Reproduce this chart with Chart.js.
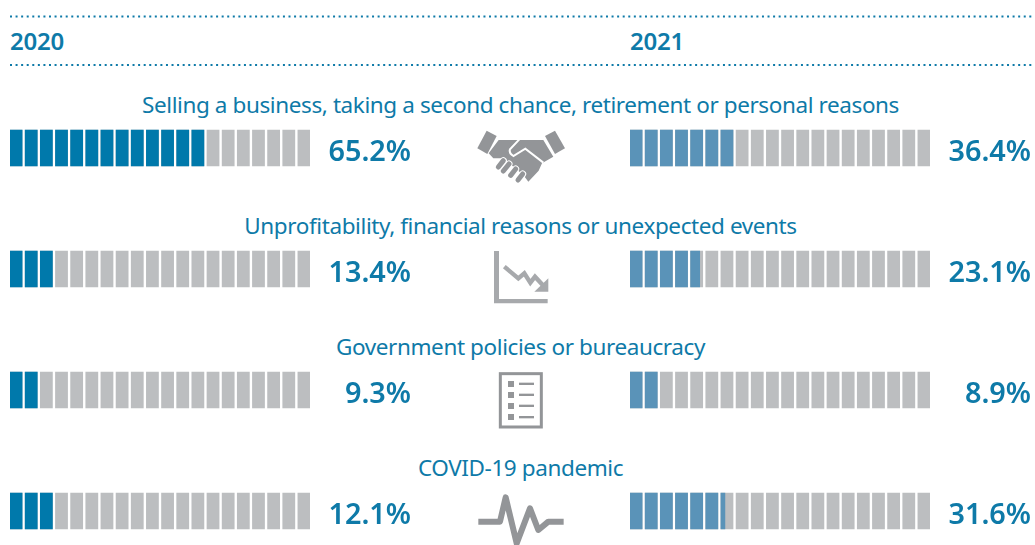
<!DOCTYPE html>
<html>
<head>
<meta charset="utf-8">
<title>Reasons 2020 and 2021</title>
<script src="https://cdn.jsdelivr.net/npm/chart.js@4"></script>
<style>
	html, body { margin: 0; padding: 0; width: 1035px; height: 545px; overflow: hidden; background: #fff; }
	body { position: relative; font-family: "Noto Sans", sans-serif; color: #0e7aa8; }
	.panel { position: absolute; top: 87px; width: 401px; height: 485px; }
	.year { position: absolute; top: 24px; font-size: 24px; line-height: 34px; font-weight: 600; letter-spacing: -0.2px; }
	.reason { position: absolute; left: 0; width: 1041px; text-align: center; font-size: 22.5px; line-height: 32px; letter-spacing: -0.4px; white-space: nowrap; }
	#art { position: absolute; left: 0; top: 0; }
</style>
</head>
<body>

<div class="year" style="left:10px">2020</div>
<div class="year" style="left:630px">2021</div>

<div class="reason" style="top:89px">Selling a business, taking a second chance, retirement or personal reasons</div>
<div class="reason" style="top:210px">Unprofitability, financial reasons or unexpected events</div>
<div class="reason" style="top:331px">Government policies or bureaucracy</div>
<div class="reason" style="top:452px">COVID-19 pandemic</div>

<div class="panel" style="left:10px"><canvas id="chart2020"></canvas></div>
<div class="panel" style="left:630px"><canvas id="chart2021"></canvas></div>

<!-- garis titik dan ikon -->
<svg id="art" width="1035" height="545" xmlns="http://www.w3.org/2000/svg">
	<g stroke="#0e7aa8" stroke-width="2" stroke-dasharray="2 3.57">
		<line x1="10" y1="16.5" x2="1032" y2="16.5"/>
		<line x1="10" y1="65" x2="1032" y2="65"/>
	</g>

	<!-- jabat tangan -->
	<g transform="translate(460 120) scale(0.3333)">
		<g fill="#939598">
			<polygon points="80,32 110,48 82,102 52,85"/>
			<polygon points="285,32 255,48 285,102 315,85"/>
			<polygon points="116,60 250,60 280,110 246,130 236,152 205,185 190,165 130,115 100,115 86,100"/>
		</g>
		<path d="M178,58 L150,88 Q146,100 160,108 L196,86 L250,128" fill="none" stroke="#fff" stroke-width="6"/>
		<g stroke="#fff" stroke-width="21" stroke-linecap="round">
			<line x1="130" y1="122" x2="115" y2="141"/>
			<line x1="147" y1="132" x2="130" y2="153"/>
			<line x1="167" y1="147" x2="152" y2="166"/>
			<line x1="188" y1="162" x2="174" y2="180"/>
		</g>
		<g stroke="#939598" stroke-width="15" stroke-linecap="round">
			<line x1="130" y1="122" x2="115" y2="141"/>
			<line x1="147" y1="132" x2="130" y2="153"/>
			<line x1="167" y1="147" x2="152" y2="166"/>
			<line x1="188" y1="162" x2="174" y2="180"/>
		</g>
	</g>

	<!-- grafik turun -->
	<g transform="translate(485 245) scale(0.3333)" fill="#a7a9ac">
		<polygon points="27,18 42,18 42,162 188,162 188,175 27,175"/>
		<polyline points="58,65 100,100 118,85 136,113 150,95 178,125" fill="none" stroke="#a7a9ac" stroke-width="13"/>
		<polygon points="190,100 190,140 148,140"/>
	</g>

	<!-- dokumen -->
	<g transform="translate(460 360) scale(0.3333)" fill="#939598">
		<rect x="121" y="41" width="123" height="160" fill="none" stroke="#939598" stroke-width="9"/>
		<rect x="144" y="63" width="18" height="18"/>
		<rect x="144" y="96" width="18" height="18"/>
		<rect x="144" y="129" width="18" height="18"/>
		<rect x="144" y="162" width="18" height="18"/>
		<rect x="177" y="68" width="45" height="7"/>
		<rect x="177" y="101" width="45" height="7"/>
		<rect x="177" y="134" width="45" height="7"/>
		<rect x="177" y="168" width="45" height="7"/>
	</g>

	<!-- denyut -->
	<g transform="translate(460 360) scale(0.3333)">
		<polyline points="55,485 120,485 137,412 170,550 210,445 235,510 265,485 311,485" fill="none" stroke="#939598" stroke-width="18" stroke-linejoin="round"/>
	</g>
</svg>

<script>
// Data
const alasan = [
	"Selling a business, taking a second chance, retirement or personal reasons",
	"Unprofitability, financial reasons or unexpected events",
	"Government policies or bureaucracy",
	"COVID-19 pandemic",
];
const label2020 = ["65.2%", "13.4%", "9.3%", "12.1%"];
const label2021 = ["36.4%", "23.1%", "8.9%", "31.6%"];
// jumlah kotak terisi dari 20 kotak, seperti yang tergambar
const isi2020 = [13, 3, 2, 3];
const isi2021 = [7, 4.75, 2, 6.33];

const JUMLAH_KOTAK = 20;
const LEBAR_KOTAK = 0.8;

function buatDataset(isi, warnaIsi) {
	const datasets = [];
	// dataset pertama digambar paling atas, jadi bagian terisi lebih dulu
	for (let i = 0; i < JUMLAH_KOTAK; i++) {
		datasets.push({
			data: isi.map((n) => {
				const bagian = Math.min(1, n - i);
				return bagian > 0 ? [i, i + LEBAR_KOTAK * bagian] : null;
			}),
			backgroundColor: warnaIsi,
			barThickness: 36,
			grouped: false,
		});
	}
	// kotak abu-abu di belakang
	for (let i = 0; i < JUMLAH_KOTAK; i++) {
		datasets.push({
			data: isi.map(() => [i, i + LEBAR_KOTAK]),
			backgroundColor: "#bcbec0",
			barThickness: 36,
			grouped: false,
		});
	}
	return datasets;
}

// Label persen di kanan tiap baris, rata kanan
const labelPersenPlugin = {
	id: "labelPersen",
	afterDraw(chart, args, opts) {
		const { ctx, chartArea, scales } = chart;
		ctx.save();
		ctx.font = "600 28.8px 'Noto Sans'";
		ctx.fillStyle = "#0e7aa8";
		ctx.textAlign = "right";
		ctx.textBaseline = "middle";
		opts.teks.forEach((teks, i) => {
			ctx.fillText(teks, chartArea.right + 101, scales.y.getPixelForValue(i) + 5);
		});
		ctx.restore();
	},
};

function buatChart(canvasId, isi, labelPersen, warnaIsi) {
	new Chart(document.getElementById(canvasId), {
		type: "bar",
		data: { labels: alasan, datasets: buatDataset(isi, warnaIsi) },
		plugins: [labelPersenPlugin],
		options: {
			indexAxis: "y",
			responsive: true,
			maintainAspectRatio: false,
			animation: false,
			events: [],
			layout: { padding: { top: 0.5, bottom: 0.5, right: 101 } },
			plugins: {
				legend: { display: false },
				tooltip: { enabled: false },
				labelPersen: { teks: labelPersen },
			},
			scales: {
				x: {
					display: false,
					min: 0,
					max: JUMLAH_KOTAK - 1 + LEBAR_KOTAK,
				},
				y: { display: false },
			},
		},
	});
}

buatChart("chart2020", isi2020, label2020, "#0079ab");
buatChart("chart2021", isi2021, label2021, "#5a93b8");
</script>
</body>
</html>
